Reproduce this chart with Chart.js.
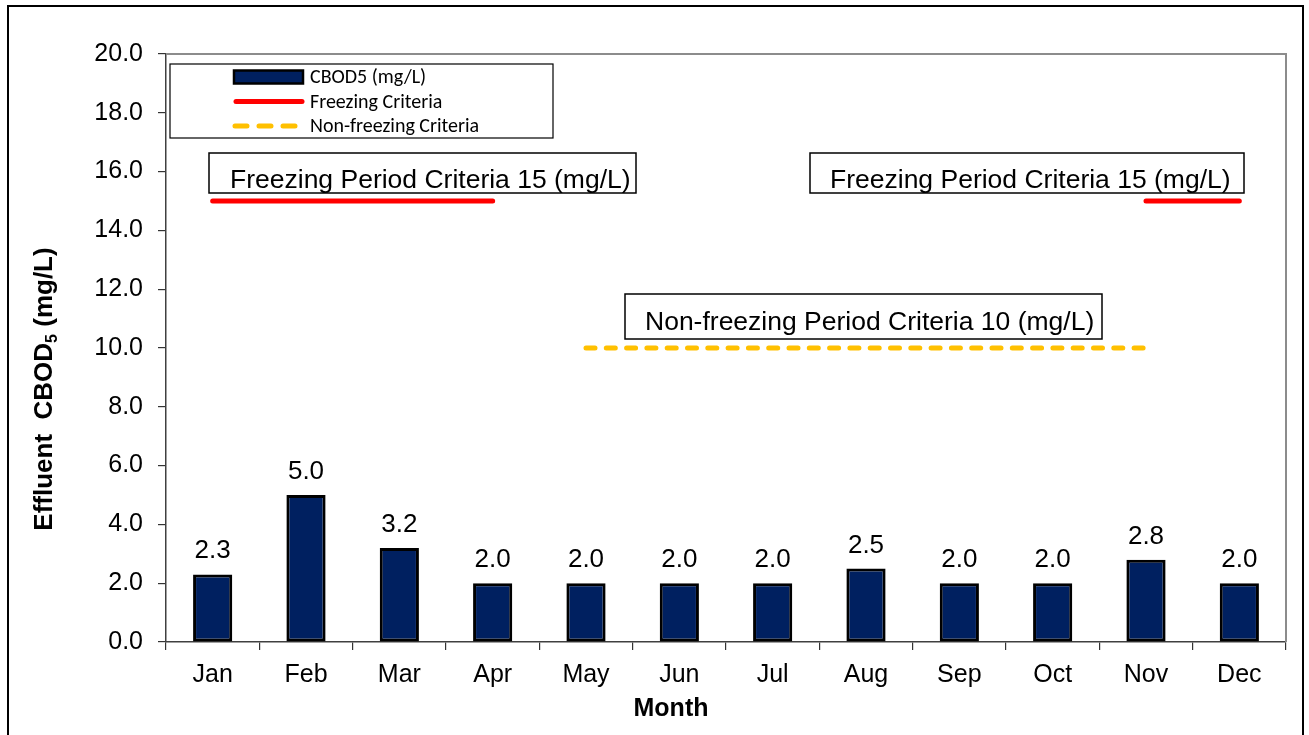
<!DOCTYPE html>
<html>
<head>
<meta charset="utf-8">
<title>Effluent CBOD5</title>
<script src="https://cdn.jsdelivr.net/npm/chart.js@4.4.1/dist/chart.umd.min.js"></script>
<style>
  html, body { margin: 0; padding: 0; background: #fff; overflow: hidden; }
  #wrap { position: relative; width: 1309px; height: 735px; }
  #frame { position: absolute; left: 7px; top: 5px; width: 1293px; height: 740px; border: 2px solid #000; pointer-events: none; }
</style>
</head>
<body>
<div id="wrap">
  <canvas id="cbodChart" width="1309" height="735"></canvas>
  <div id="frame"></div>
</div>
<script>
  "use strict";

  // monthly effluent CBOD5 and the two permit criteria
  var MONTHS = ["Jan", "Feb", "Mar", "Apr", "May", "Jun", "Jul", "Aug", "Sep", "Oct", "Nov", "Dec"];
  var CBOD5 = [2.3, 5.0, 3.2, 2.0, 2.0, 2.0, 2.0, 2.5, 2.0, 2.0, 2.8, 2.0];
  var FREEZING = [15, 15, 15, 15, null, null, null, null, null, null, 15, 15];
  var NON_FREEZING = [null, null, null, null, 10, 10, 10, 10, 10, 10, 10, null];
  var Y_TICKS = [0, 2, 4, 6, 8, 10, 12, 14, 16, 18, 20];

  var ARIAL = "'Liberation Sans', Arial, sans-serif";
  var CALIBRI = "Carlito, Lato, sans-serif";

  var NOTES = [
    { text: "Freezing Period Criteria 15 (mg/L)", x: 209, y: 153, w: 427, h: 40, tx: 230, ty: 188 },
    { text: "Freezing Period Criteria 15 (mg/L)", x: 810, y: 153, w: 434, h: 40, tx: 830, ty: 188 },
    { text: "Non-freezing Period Criteria 10 (mg/L)", x: 625, y: 294, w: 477, h: 45, tx: 645, ty: 330 }
  ];

  // grey plot-area outline on the top and right
  var plotFrame = {
    id: "plotFrame",
    beforeDatasetsDraw: function (chart) {
      var a = chart.chartArea, c = chart.ctx;
      c.save();
      c.strokeStyle = "#8c8c8c";
      c.lineWidth = 2;
      c.beginPath();
      c.moveTo(a.left, a.top);
      c.lineTo(a.right, a.top);
      c.lineTo(a.right, a.bottom);
      c.stroke();
      c.restore();
    }
  };

  // value above each bar
  var barValues = {
    id: "barValues",
    afterDatasetsDraw: function (chart) {
      var c = chart.ctx, meta = chart.getDatasetMeta(0);
      c.save();
      c.font = "26px " + ARIAL;
      c.fillStyle = "#000";
      c.textAlign = "center";
      c.textBaseline = "alphabetic";
      meta.data.forEach(function (bar, i) {
        c.fillText(CBOD5[i].toFixed(1), bar.x, bar.y - 16);
      });
      c.restore();
    }
  };

  // text boxes, legend box and axis titles
  var decorations = {
    id: "decorations",
    afterDraw: function (chart) {
      var c = chart.ctx, ds = chart.data.datasets;
      c.save();

      NOTES.forEach(function (n) {
        c.fillStyle = "#fff";
        c.fillRect(n.x, n.y, n.w, n.h);
        c.strokeStyle = "#000";
        c.lineWidth = 1.5;
        c.strokeRect(n.x, n.y, n.w, n.h);
        c.fillStyle = "#000";
        c.font = "26.5px " + ARIAL;
        c.textAlign = "left";
        c.textBaseline = "alphabetic";
        c.fillText(n.text, n.tx, n.ty);
      });

      // legend
      var lx = 170, ly = 64, lw = 383, lh = 74;
      c.fillStyle = "#fff";
      c.fillRect(lx, ly, lw, lh);
      c.strokeStyle = "#000";
      c.lineWidth = 1.2;
      c.strokeRect(lx, ly, lw, lh);
      var rows = [77, 101.5, 126];
      c.font = "20px " + CALIBRI;
      c.textBaseline = "middle";
      c.textAlign = "left";
      ds.forEach(function (d, i) {
        var y = rows[i];
        if (d.type === "bar" || !d.type) {
          c.fillStyle = d.backgroundColor;
          c.fillRect(234, y - 6.5, 69, 13);
          c.strokeStyle = d.borderColor;
          c.lineWidth = 2.5;
          c.strokeRect(234, y - 6.5, 69, 13);
        } else {
          c.strokeStyle = d.borderColor;
          c.lineWidth = d.borderWidth;
          c.lineCap = "round";
          c.setLineDash(d.borderDash ? [12, 12] : []);
          c.beginPath();
          c.moveTo(d.borderDash ? 235 : 236, y);
          c.lineTo(302, y);
          c.stroke();
          c.setLineDash([]);
        }
        c.fillStyle = "#000";
        c.fillText(d.label, 310, y + 1);
      });

      // x title
      c.font = "bold 25px " + ARIAL;
      c.textAlign = "center";
      c.textBaseline = "alphabetic";
      c.fillText("Month", 671, 716);

      // y title with subscript 5
      c.translate(52, 389);
      c.rotate(-Math.PI / 2);
      var big = "bold 26px " + ARIAL, small = "bold 16px " + ARIAL;
      var p1 = "Effluent  CBOD", p2 = "5", p3 = " (mg/L)";
      c.font = big;
      var w1 = c.measureText(p1).width, w3 = c.measureText(p3).width;
      c.font = small;
      var w2 = c.measureText(p2).width;
      var x0 = -(w1 + w2 + w3) / 2;
      c.textAlign = "left";
      c.font = big;
      c.fillText(p1, x0, 0);
      c.font = small;
      c.fillText(p2, x0 + w1, 5);
      c.font = big;
      c.fillText(p3, x0 + w1 + w2, 0);

      c.restore();
    }
  };

  new Chart(document.getElementById("cbodChart"), {
    type: "bar",
    data: {
      labels: MONTHS,
      datasets: [
        {
          type: "bar",
          label: "CBOD5 (mg/L)",
          data: CBOD5,
          backgroundColor: "#002060",
          borderColor: "#000",
          borderWidth: 3,
          borderSkipped: false,
          barPercentage: 0.42,
          categoryPercentage: 1,
          order: 2
        },
        {
          type: "line",
          label: "Freezing Criteria",
          data: FREEZING,
          borderColor: "#ff0000",
          borderWidth: 5,
          borderCapStyle: "round",
          pointRadius: 0,
          spanGaps: false,
          fill: false,
          order: 1
        },
        {
          type: "line",
          label: "Non-freezing Criteria",
          data: NON_FREEZING,
          borderColor: "#ffc000",
          borderWidth: 5,
          borderCapStyle: "round",
          borderDash: [9, 11.3],
          pointRadius: 0,
          spanGaps: false,
          fill: false,
          order: 1
        }
      ]
    },
    options: {
      responsive: false,
      devicePixelRatio: 1,
      animation: false,
      layout: { padding: { left: 0, top: 54, right: 23, bottom: 0 } },
      plugins: {
        legend: { display: false },
        tooltip: { enabled: false },
        title: { display: false }
      },
      scales: {
        x: {
          offset: true,
          afterFit: function (s) { s.height = 93; },
          grid: { display: true, offset: true, drawOnChartArea: false, drawTicks: true, tickLength: 8, color: "#333", lineWidth: 1.2 },
          border: { display: true, color: "#404040", width: 1.5 },
          ticks: { color: "#000", font: { family: ARIAL, size: 25 }, padding: 10, maxRotation: 0 }
        },
        y: {
          min: 0,
          max: 20,
          afterFit: function (s) { s.width = 166; },
          afterBuildTicks: function (s) { s.ticks = Y_TICKS.map(function (v) { return { value: v }; }); },
          grid: { display: true, drawOnChartArea: false, drawTicks: true, tickLength: 8, color: "#333", lineWidth: 1.2 },
          border: { display: true, color: "#404040", width: 1.5 },
          ticks: {
            color: "#000",
            font: { family: ARIAL, size: 25 },
            padding: 15,
            callback: function (v) { return Number(v).toFixed(1); }
          }
        }
      }
    },
    plugins: [plotFrame, barValues, decorations]
  });
</script>
</body>
</html>
